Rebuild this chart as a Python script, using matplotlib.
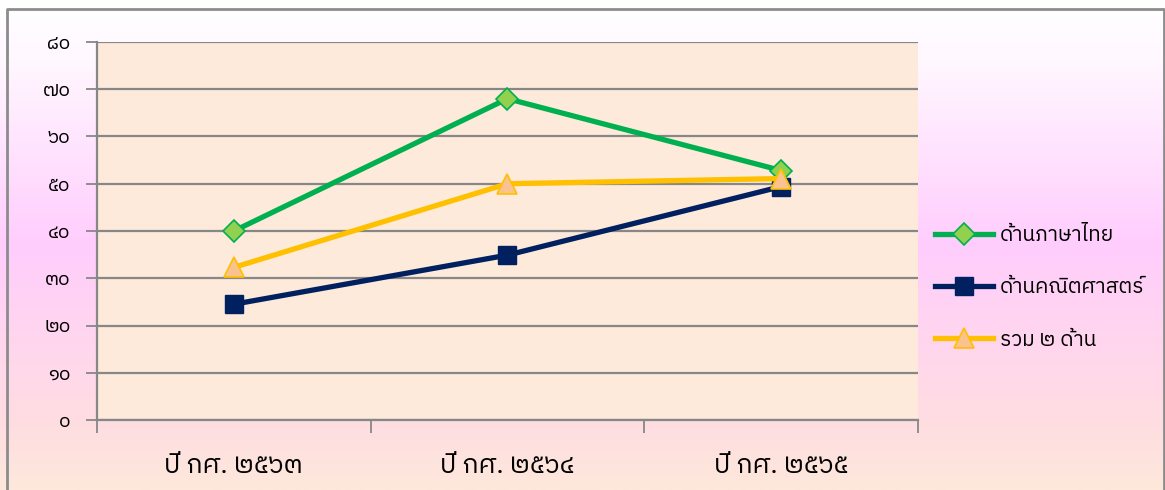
import numpy as np
import matplotlib
matplotlib.use('Agg')
import matplotlib.pyplot as plt
from matplotlib import font_manager
from matplotlib.ft2font import FT2Font
from matplotlib.colors import LinearSegmentedColormap

categories = ['ปี กศ. ๒๕๖๓', 'ปี กศ. ๒๕๖๔', 'ปี กศ. ๒๕๖๕']
thai_lang = [40, 68, 52.8]
thai_math = [24.5, 34.9, 49.4]
both = [32.3, 50, 51.1]
labels = ['ด้านภาษาไทย', 'ด้านคณิตศาสตร์', 'รวม ๒ ด้าน']
yticks = [0, 10, 20, 30, 40, 50, 60, 70, 80]
ytick_labels = ['๐', '๑๐', '๒๐', '๓๐', '๔๐', '๕๐', '๖๐', '๗๐', '๘๐']


def find_thai_font():
    # look for an installed font that has Thai glyphs
    names = []
    for f in font_manager.findSystemFonts():
        try:
            cmap = FT2Font(f).get_charmap()
        except Exception:
            continue
        if 0x0E14 in cmap and 0x0E52 in cmap:
            try:
                names.append(font_manager.FontProperties(fname=f).get_name())
            except Exception:
                pass
    pref = [n for n in names if 'Thai' in n and 'Looped' not in n]
    if pref:
        return pref[0]
    return names[0] if names else 'DejaVu Sans'


thai_font = find_thai_font()
plt.rcParams['font.family'] = [thai_font, 'DejaVu Sans']

fig = plt.figure(figsize=(11.65, 4.9), dpi=100)

# background gradient
bg = fig.add_axes([0, 0, 1, 1], zorder=-10)
cmap = LinearSegmentedColormap.from_list('bg', [
    (0.0, '#ffffff'), (0.12, '#fff8ff'), (0.5, '#ffcdfd'),
    (0.86, '#ffdde2'), (1.0, '#fde8da')])
bg.imshow(np.linspace(0, 1, 256).reshape(-1, 1), aspect='auto', cmap=cmap,
          extent=[0, 1, 0, 1], origin='upper')
bg.plot([0.006, 0.006, 0.999, 0.999], [0, 0.982, 0.982, 0], color='#8c8c8c', lw=2)
bg.set_xlim(0, 1)
bg.set_ylim(0, 1)
bg.axis('off')

ax = fig.add_axes([97 / 1165, 1 - 420 / 490, (918 - 97) / 1165, (420 - 42) / 490])
ax.set_facecolor('#fdeadb')
x = np.arange(len(categories))

ax.plot(x, thai_lang, color='#00b050', lw=3.8, marker='D', ms=11,
        mfc='#92d050', mec='#00b050', mew=1.2, label=labels[0], zorder=3)
ax.plot(x, thai_math, color='#002060', lw=3.8, marker='s', ms=13,
        mfc='#002060', mec='#002060', label=labels[1], zorder=3)
ax.plot(x, both, color='#ffc000', lw=3.8, marker='^', ms=15,
        mfc='#f9c28f', mec='#ffc000', mew=1.2, label=labels[2], zorder=4)

ax.set_xlim(-0.5, 2.5)
ax.set_ylim(0, 80)
ax.set_yticks(yticks)
ax.set_yticklabels(ytick_labels, fontsize=14)
ax.yaxis.grid(True, color='#878787', lw=1.6)
ax.set_axisbelow(True)

ax.set_xticks([-0.5, 0.5, 1.5, 2.5])
ax.set_xticklabels([])
ax.set_xticks(x, minor=True)
ax.set_xticklabels(categories, minor=True, fontsize=19)
ax.tick_params(axis='x', which='major', length=9, color='#878787', width=1.3)
ax.tick_params(axis='x', which='minor', length=0, pad=24)
ax.tick_params(axis='y', length=8, color='#878787', width=1.3, pad=11)

for s in ['top', 'right']:
    ax.spines[s].set_visible(False)
for s in ['left', 'bottom']:
    ax.spines[s].set_color('#878787')
    ax.spines[s].set_linewidth(1.6)

ax.legend(loc='center left', bbox_to_anchor=(0.998, 0.35),
          frameon=False, fontsize=15, handlelength=2.8, handletextpad=0.3,
          labelspacing=1.6)

fig.savefig('out.png', dpi=100)
